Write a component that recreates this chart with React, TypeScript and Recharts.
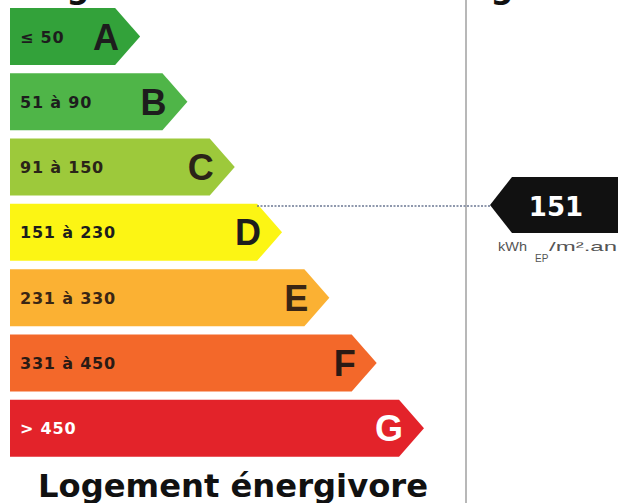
import { BarChart, Bar, XAxis, YAxis, Cell } from "recharts";

const classes = ["A", "B", "C", "D", "E", "F", "G"];
const ranges = ["≤ 50", "51 à 90", "91 à 150", "151 à 230", "231 à 330", "331 à 450", "> 450"];
// relative arrow length of each class on the label
const lengths = [11, 15, 19, 23, 27, 31, 35];
const colors = ["#33a23a", "#4fb548", "#9dc93b", "#fcf514", "#fbb133", "#f3682a", "#e3232a"];
const textColors = ["#1d1d1d", "#1d1d1d", "#2a2418", "#1d1d1d", "#3a2614", "#2a1a14", "#ffffff"];

const consumption = 151;

const data = classes.map((c, i) => ({
  cls: c,
  range: ranges[i],
  len: lengths[i],
  color: colors[i],
  text: textColors[i],
}));

const TIP = 25;

function Arrow(props: any) {
  const { x, y, width, height, payload } = props;
  const bodyRight = x + width - TIP;
  const cy = y + height / 2;
  const pts = [
    [x, y],
    [bodyRight, y],
    [x + width, cy],
    [bodyRight, y + height],
    [x, y + height],
  ]
    .map((p) => p.join(","))
    .join(" ");
  return (
    <g>
      <polygon points={pts} fill={payload.color} />
      <text
        x={x + 10}
        y={cy + 6}
        fill={payload.text}
        fontFamily="DejaVu Sans"
        fontWeight="bold"
        fontSize={16}
        letterSpacing={0.8}
      >
        {payload.range}
      </text>
      <text
        x={x + width - 21}
        y={cy + 13}
        textAnchor="end"
        fill={payload.text}
        fontFamily="Liberation Sans"
        fontWeight="bold"
        fontSize={36}
      >
        {payload.cls}
      </text>
    </g>
  );
}

export default function App() {
  return (
    <div style={{ position: "absolute", left: 0, top: 0, width: 622, height: 503, background: "#fff" }}>
      <BarChart
        width={622}
        height={503}
        data={data}
        layout="vertical"
        margin={{ top: 4, right: 198, bottom: 42, left: 10 }}
        barCategoryGap={8}
      >
        <XAxis type="number" domain={[0, 35]} hide />
        <YAxis type="category" dataKey="cls" hide />
        <Bar dataKey="len" barSize={57} shape={<Arrow />} isAnimationActive={false}>
          {data.map((d) => (
            <Cell key={d.cls} fill={d.color} />
          ))}
        </Bar>
      </BarChart>
      <svg
        width={622}
        height={503}
        style={{ position: "absolute", left: 0, top: 0, pointerEvents: "none" }}
      >
        <text x={24} y={-2} fontFamily="DejaVu Sans" fontWeight="bold" fontSize={32} fill="#111">
          Logement économe
        </text>
        <text x={448} y={-2} fontFamily="DejaVu Sans" fontWeight="bold" fontSize={32} fill="#111">
          Logement
        </text>
        <line x1={466} y1={0} x2={466} y2={503} stroke="#a0a0a0" strokeWidth={1.5} />
        <line x1={257} y1={206} x2={490} y2={206} stroke="#6b7793" strokeWidth={1.3} strokeDasharray="2 1.5" />
        <polygon points="490,205 512,177 618,177 618,233 512,233" fill="#111" />
        <text
          x={556}
          y={216}
          textAnchor="middle"
          fill="#fff"
          fontFamily="DejaVu Sans"
          fontWeight="bold"
          fontSize={26}
        >
          {consumption}
        </text>
        <text
          x={498}
          y={251}
          fill="#555"
          fontFamily="Liberation Sans"
          fontSize={13}
          textLength={29}
          lengthAdjust="spacingAndGlyphs"
        >
          kWh
        </text>
        <text x={535} y={262} fill="#555" fontFamily="Liberation Sans" fontSize={10}>
          EP
        </text>
        <text
          x={549}
          y={251}
          fill="#555"
          fontFamily="Liberation Sans"
          fontSize={13}
          textLength={68}
          lengthAdjust="spacingAndGlyphs"
        >
          /m².an
        </text>
        <text
          x={38}
          y={497}
          fill="#111"
          fontFamily="DejaVu Sans"
          fontWeight="bold"
          fontSize={32}
          textLength={390}
          lengthAdjust="spacingAndGlyphs"
        >
          Logement énergivore
        </text>
      </svg>
    </div>
  );
}
